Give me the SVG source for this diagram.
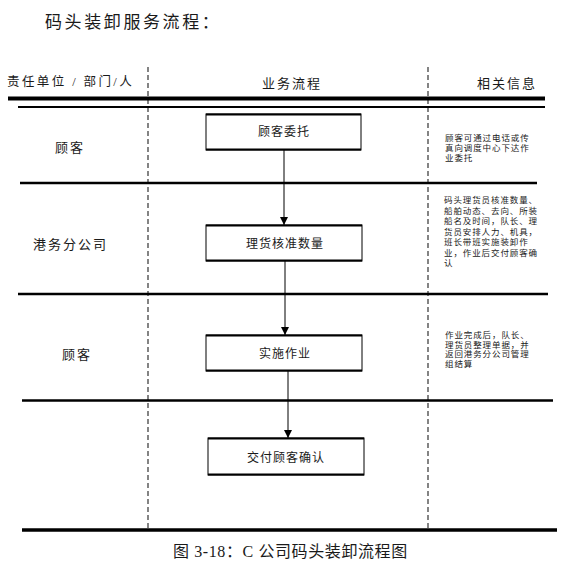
<svg xmlns="http://www.w3.org/2000/svg" width="569" height="566" viewBox="0 0 569 566">
<defs>
<style>
text{font-family:"Liberation Serif","Noto Sans CJK SC",serif;fill:#1a1a1a}
.t{font-size:17px;letter-spacing:2.6px}
.h{font-size:12.5px;letter-spacing:2.4px}
.l{font-size:13px;letter-spacing:2px}
.b{font-size:12px;letter-spacing:1px;text-anchor:middle}
.i{font-size:8.5px;letter-spacing:0.9px}
.c{font-size:16px;letter-spacing:0.6px}
.rule{stroke:#000;fill:none}
.dash{stroke:#333;stroke-width:1.2;stroke-dasharray:5 3;fill:none}
.box{fill:#fff;stroke:#000;stroke-width:1}
.edge{stroke:#000;stroke-width:2.2;fill:none}
.conn{stroke:#000;stroke-width:1;fill:none}
</style>
<marker id="arr" viewBox="0 0 8 10" refX="8" refY="5" markerWidth="8" markerHeight="10" markerUnits="userSpaceOnUse" orient="auto">
<path d="M0,1 L8,5 L0,9 Z" fill="#000"/>
</marker>
</defs>
<rect width="569" height="566" fill="#fff"/>
<text class="t" x="45" y="28">码头装卸服务流程：</text>
<g id="frame">
<line class="dash" x1="148" y1="67" x2="148" y2="529"/>
<line class="dash" x1="428" y1="67" x2="428" y2="529"/>
<line class="rule" x1="8" y1="98.5" x2="545" y2="98.5" stroke-width="4"/>
<line class="rule" x1="18" y1="107" x2="545" y2="107" stroke-width="2"/>
<line class="rule" x1="20" y1="183" x2="537" y2="183" stroke-width="2.5"/>
<line class="rule" x1="18" y1="294" x2="548" y2="294" stroke-width="2.5"/>
<line class="rule" x1="22" y1="400.5" x2="553" y2="400.5" stroke-width="2.5"/>
<line class="rule" x1="22" y1="530" x2="557" y2="530" stroke-width="3.5"/>
</g>
<g id="headers">
<text class="h" x="7" y="86">责任单位 / 部门/人</text>
<text class="l" x="292" y="88" text-anchor="middle">业务流程</text>
<text class="l" x="507" y="88" text-anchor="middle">相关信息</text>
</g>
<g id="lanes">
<text class="l" x="55" y="152">顾客</text>
<text class="l" x="33" y="249">港务分公司</text>
<text class="l" x="62" y="359">顾客</text>
</g>
<g id="connectors">
<line class="conn" x1="284" y1="150" x2="284" y2="225" marker-end="url(#arr)"/>
<line class="conn" x1="285" y1="261" x2="285" y2="335" marker-end="url(#arr)"/>
<line class="conn" x1="288" y1="371" x2="288" y2="438" marker-end="url(#arr)"/>
</g>
<g id="n1">
<rect class="box" x="206" y="114" width="155" height="36"/>
<path class="edge" d="M206,114.5 H361 M206,149.5 H361"/>
<text class="b" x="284" y="135.5">顾客委托</text>
</g>
<g id="n2">
<rect class="box" x="206" y="225" width="156" height="36"/>
<path class="edge" d="M206,225.5 H362 M206,260.5 H362"/>
<text class="b" x="285" y="247.5">理货核准数量</text>
</g>
<g id="n3">
<rect class="box" x="206" y="335" width="156" height="36"/>
<path class="edge" d="M206,335.5 H362 M206,370.5 H362"/>
<text class="b" x="285" y="357.5">实施作业</text>
</g>
<g id="n4">
<rect class="box" x="208" y="438" width="156" height="37"/>
<path class="edge" d="M208,438.5 H364 M208,474.5 H364"/>
<text class="b" x="286" y="461.5">交付顾客确认</text>
</g>
<g id="info">
<text class="i" x="445" y="141">顾客可通过电话或传</text>
<text class="i" x="445" y="151">真向调度中心下达作</text>
<text class="i" x="445" y="161">业委托</text>
<text class="i" x="444" y="203">码头理货员核准数量、</text>
<text class="i" x="444" y="213.5">船舶动态、去向、所装</text>
<text class="i" x="444" y="224">船名及时间，队长、理</text>
<text class="i" x="444" y="234.5">货员安排人力、机具，</text>
<text class="i" x="444" y="245">班长带班实施装卸作</text>
<text class="i" x="444" y="255.5">业，作业后交付顾客确</text>
<text class="i" x="444" y="266">认</text>
<text class="i" x="445" y="338">作业完成后，队长、</text>
<text class="i" x="445" y="347.5">理货员整理单据，并</text>
<text class="i" x="445" y="357">返回港务分公司管理</text>
<text class="i" x="445" y="366.5">组结算</text>
</g>
<text class="c" x="173" y="557">图 3-18：C 公司码头装卸流程图</text>
</svg>
